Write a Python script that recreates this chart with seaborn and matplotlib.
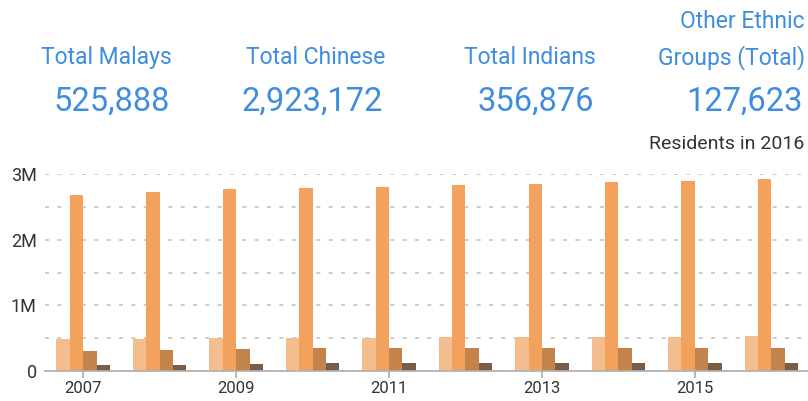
import pandas as pd
import matplotlib.pyplot as plt
import seaborn as sns
from matplotlib.ticker import FuncFormatter, MultipleLocator

# Residents by ethnic group
years = [2007, 2008, 2009, 2010, 2011, 2012, 2013, 2014, 2015, 2016]
malays = [486000, 493000, 500000, 504000, 507000, 511000, 515000, 519000, 522000, 525888]
chinese = [2684000, 2721000, 2770000, 2789000, 2805000, 2827000, 2853000, 2874000, 2900000, 2923172]
indians = [305000, 318000, 335000, 343000, 345000, 348000, 350000, 352000, 354000, 356876]
others = [87000, 96000, 110000, 120000, 120000, 121000, 122000, 124000, 126000, 127623]

groups = ["Malays", "Chinese", "Indians", "Others"]
kpi_labels = ["Total Malays", "Total Chinese", "Total Indians", "Other Ethnic\nGroups (Total)"]
colors = ["#f4bd8d", "#f2a25c", "#c3844b", "#7a5d48"]

df = pd.DataFrame({"year": years, "Malays": malays, "Chinese": chinese,
                   "Indians": indians, "Others": others})
df_long = df.melt(id_vars="year", var_name="group", value_name="residents")

sns.set_theme(style="white")
plt.rcParams["font.family"] = ["Roboto", "DejaVu Sans"]

W, H = 808, 401
fig = plt.figure(figsize=(W / 100, H / 100), dpi=100)
ax = fig.add_axes([45 / W, (H - 371) / H, (W - 45) / W, (371 - 174) / H])

sns.barplot(data=df_long, x="year", y="residents", hue="group", hue_order=groups,
            palette=colors, saturation=1, width=0.7, linewidth=0, legend=False, ax=ax)

ax.set_ylim(0, 3_000_000)
ax.set_xlim(-0.5, 9.48)
ax.yaxis.set_major_locator(MultipleLocator(1_000_000))
ax.yaxis.set_minor_locator(MultipleLocator(500_000))
ax.yaxis.set_major_formatter(FuncFormatter(lambda v, p: "0" if v == 0 else f"{int(v / 1e6)}M"))
ax.grid(axis="y", which="both", color="#c4c4c4", linestyle=(0, (2.4, 5)), linewidth=1.2)
ax.set_axisbelow(True)

ax.set_xticks(range(0, 10, 2))
ax.set_xticklabels([str(y) for y in years[::2]])
ax.set_xlabel("")
ax.set_ylabel("")

for s in ["top", "right", "left"]:
    ax.spines[s].set_visible(False)
ax.spines["bottom"].set_color("#b0b0b0")
ax.tick_params(axis="x", bottom=True, length=5, color="#b0b0b0", labelsize=12,
               labelcolor="#333333", pad=2)
ax.tick_params(axis="y", which="both", left=False, length=0, labelsize=13,
               labelcolor="#333333", pad=6)

# KPI header
blue = "#3f8ddf"
label_x = [172, 385, 596, 805]
for x, lab, val in zip(label_x, kpi_labels, [malays[-1], chinese[-1], indians[-1], others[-1]]):
    lines = lab.split("\n")
    for i, line in enumerate(reversed(lines)):
        fig.text(x / W, 1 - (64 - 36 * i) / H, line, ha="right", va="baseline",
                 fontsize=16.5, color=blue)
    fig.text((x - 2) / W, 1 - 111 / H, f"{val:,}", ha="right", va="baseline",
             fontsize=23.5, color=blue)

fig.text(804 / W, 1 - 149 / H, "Residents in 2016", ha="right", va="baseline",
         fontsize=14, color="#333333")

plt.savefig("out.png", dpi=100)
